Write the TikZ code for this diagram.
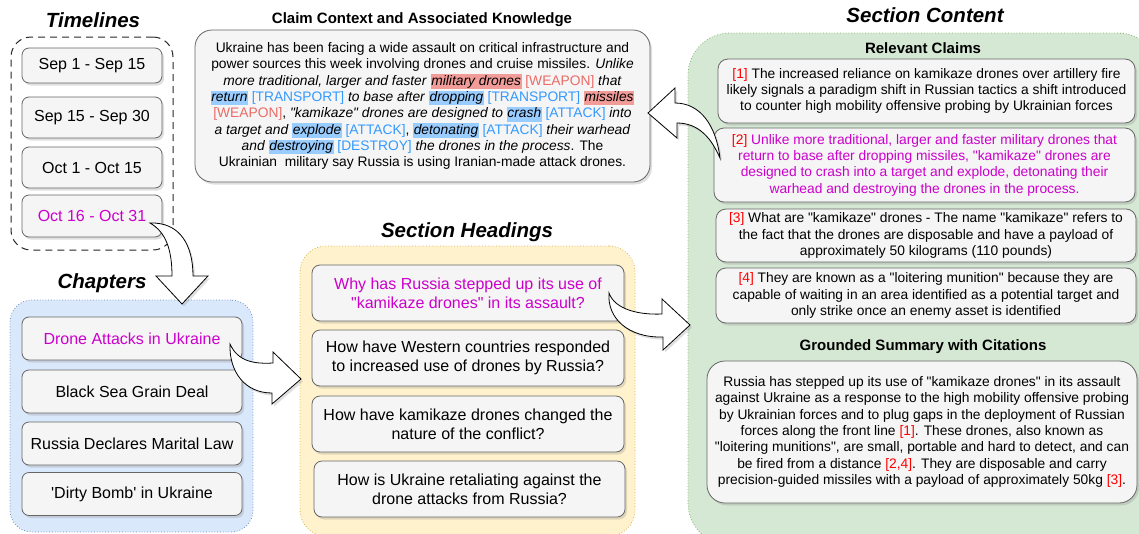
\documentclass[tikz,border=0pt]{standalone}
\usepackage{fontspec}
\setmainfont{Liberation Sans}[Ligatures=TeXOff]
\usetikzlibrary{shadows}

\definecolor{cardfill}{HTML}{F5F5F5}
\definecolor{cardline}{HTML}{666666}
\definecolor{pick}{HTML}{CC00CC}
\definecolor{cite}{HTML}{FF0000}
\definecolor{bluefill}{HTML}{DAE8FC}
\definecolor{bluedge}{HTML}{6C8EBF}
\definecolor{yellowfill}{HTML}{FFF2CC}
\definecolor{yellowedge}{HTML}{D6B656}
\definecolor{greenfill}{HTML}{D5E8D4}
\definecolor{greenedge}{HTML}{82B366}
\definecolor{markred}{HTML}{F19C99}
\definecolor{markblue}{HTML}{99CCFF}
\definecolor{tagred}{HTML}{EA6B66}
\definecolor{tagblue}{HTML}{3399FF}

\newcommand{\markr}[1]{{\setlength{\fboxsep}{0.5pt}\colorbox{markred}{\rule[-3.5pt]{0pt}{13.8pt}\itshape #1}}}
\newcommand{\markb}[1]{{\setlength{\fboxsep}{0.5pt}\colorbox{markblue}{\rule[-3.5pt]{0pt}{13.8pt}\itshape #1}}}
\newcommand{\tagr}[1]{\textcolor{tagred}{#1}}
\newcommand{\tagb}[1]{\textcolor{tagblue}{#1}}
\newcommand{\cit}[1]{\textcolor{cite}{#1}}

\begin{document}
\begin{tikzpicture}[x=1pt, y=-1pt,
	card/.style={draw=cardline, fill=cardfill, line width=0.8pt, rounded corners=7pt, align=center, inner sep=0pt,
		drop shadow={shadow xshift=2pt, shadow yshift=-2.5pt, opacity=0.25}},
	panel/.style={line width=0.8pt, inner sep=0pt},
	heading/.style={font=\fontsize{20.5}{24}\selectfont\bfseries\itshape},
	subheading/.style={font=\fontsize{15}{18}\selectfont\bfseries},
	txtbig/.style={font=\fontsize{16}{19}\selectfont},
	txtsmall/.style={font=\fontsize{13.8}{16.3}\selectfont},
	bigarrow/.style={draw=black, fill=white, line width=0.8pt,
		drop shadow={shadow xshift=2pt, shadow yshift=-2.5pt, opacity=0.25}}
	]
	\useasboundingbox (0,0) rectangle (1139,533);
	
	% Group panels
	\node[panel, draw=black!85, line width=1pt, dash pattern=on 7pt off 5pt, rounded corners=20pt, minimum width=162pt, minimum height=213pt] (timepanel) at (92,143.5) {};
	\node[panel, draw=bluedge, fill=bluefill, dotted, rounded corners=22pt, minimum width=243pt, minimum height=232pt] (chappanel) at (131.5,416) {};
	\node[panel, draw=yellowedge, fill=yellowfill, dotted, rounded corners=26pt, minimum width=335pt, minimum height=290pt] (headpanel) at (467.5,391) {};
	\node[panel, draw=greenedge, fill=greenfill, dotted, rounded corners=42pt, minimum width=472pt, minimum height=512pt] (contpanel) at (924,289) {};
	
	% Titles
	\node[heading] (ttime) at (93,20) {Timelines};
	\node[heading] (tchap) at (102,283) {Chapters};
	\node[heading] (thead) at (467,232) {Section Headings};
	\node[heading] (tcont) at (925,15) {Section Content};
	\node[subheading] (tctx) at (422,20) {Claim Context and Associated Knowledge};
	\node[subheading] (tclaims) at (923,48) {Relevant Claims};
	\node[subheading] (tsum) at (923,347) {Grounded Summary with Citations};
	
	% Timelines
	\foreach \i/\y/\h/\txt in {1/65.5/35/Sep 1 - Sep 15, 2/117.5/41/Sep 15 - Sep 30, 3/167.5/41/Oct 1 - Oct 15, 4/216/42/{\textcolor{pick}{Oct 16 - Oct 31}}} {
		\node[card, txtbig, minimum width=140pt, minimum height=\h pt] (T\i) at (92,\y) {\txt};
	}
	
	% Chapters
	\foreach \i/\y/\txt in {1/338.5/{\textcolor{pick}{Drone Attacks in Ukraine}}, 2/391.5/Black Sea Grain Deal, 3/443.5/Russia Declares Marital Law, 4/494/'Dirty Bomb' in Ukraine} {
		\node[card, txtbig, minimum width=220pt, minimum height=43pt] (C\i) at (132,\y) {\txt};
	}
	
	% Section headings
	\node[card, txtbig, rounded corners=8pt, minimum width=312pt, minimum height=56pt] (H1) at (468,293) {\textcolor{pick}{Why has Russia stepped up its use of}\\\textcolor{pick}{"kamikaze drones" in its assault?}};
	\node[card, txtbig, rounded corners=8pt, minimum width=312pt, minimum height=56pt] (H2) at (468,358) {How have Western countries responded\\to increased use of drones by Russia?};
	\node[card, txtbig, rounded corners=8pt, minimum width=312pt, minimum height=56pt] (H3) at (468,424) {How have kamikaze drones changed the\\nature of the conflict?};
	\node[card, txtbig, rounded corners=8pt, minimum width=311pt, minimum height=56pt] (H4) at (469.5,489) {How is Ukraine retaliating against the\\drone attacks from Russia?};
	
	% Claim context
	\node[card, txtsmall, rounded corners=17pt, minimum width=455pt, minimum height=152pt] (ctx) at (422.5,106) {%
		Ukraine has been facing a wide assault on critical infrastructure and\\
		power sources this week involving drones and cruise missiles. \textit{Unlike}\\
		\textit{more traditional, larger and faster} \markr{military drones} \tagr{[WEAPON]} \textit{that}\\
		\markb{return} \tagb{[TRANSPORT]} \textit{to base after} \markb{dropping} \tagb{[TRANSPORT]} \markr{missiles}\\
		\tagr{[WEAPON]}, \textit{"kamikaze" drones are designed to} \markb{crash} \tagb{[ATTACK]} \textit{into}\\
		\textit{a target and} \markb{explode} \tagb{[ATTACK]}, \markb{detonating} \tagb{[ATTACK]} \textit{their warhead}\\
		\textit{and} \markb{destroying} \tagb{[DESTROY]} \textit{the drones in the process}. The\\
		Ukrainian\ \ military say Russia is using Iranian-made attack drones.};
	
	% Relevant claims
	\node[card, txtsmall, rounded corners=10pt, minimum width=417pt, minimum height=64pt] (R1) at (926.5,91) {%
		\cit{[1]} The increased reliance on kamikaze drones over artillery fire\\
		likely signals a paradigm shift in Russian tactics a shift introduced\\
		to counter high mobility offensive probing by Ukrainian forces};
	\node[card, txtsmall, rounded corners=10pt, minimum width=421pt, minimum height=74pt] (R2) at (924.5,165) {%
		\color{pick}\cit{[2]} Unlike more traditional, larger and faster military drones that\\
		\color{pick}return to base after dropping missiles, "kamikaze" drones are\\
		\color{pick}designed to crash into a target and explode, detonating their\\
		\color{pick}warhead and destroying the drones in the process.};
	\node[card, txtsmall, rounded corners=10pt, minimum width=420pt, minimum height=53pt] (R3) at (926,235.5) {%
		\cit{[3]} What are "kamikaze" drones - The name "kamikaze" refers to\\
		the fact that the drones are disposable and have a payload of\\
		approximately 50 kilograms (110 pounds)};
	\node[card, txtsmall, rounded corners=10pt, minimum width=420pt, minimum height=55pt] (R4) at (926,295.5) {%
		\cit{[4]} They are known as a "loitering munition" because they are\\
		capable of waiting in an area identified as a potential target and\\
		only strike once an enemy asset is identified};
	
	% Grounded summary
	\node[card, txtsmall, rounded corners=18pt, minimum width=430pt, minimum height=142pt] (S) at (922,432) {%
		Russia has stepped up its use of "kamikaze drones" in its assault\\
		against Ukraine as a response to the high mobility offensive probing\\
		by Ukrainian forces and to plug gaps in the deployment of Russian\\
		forces along the front line \cit{[1]}. These drones, also known as\\
		"loitering munitions", are small, portable and hard to detect, and can\\
		be fired from a distance \cit{[2,4]}. They are disposable and carry\\
		precision-guided missiles with a payload of approximately 50kg \cit{[3]}.};
	
	% Curved block arrows
	\draw[bigarrow] (150,223) .. controls (180,222) and (193,245) .. (193,276) -- (208,276) -- (182,304) -- (156,276) -- (172,276) .. controls (172,250) and (166,232) .. (150,223) -- cycle;
	\draw[bigarrow] (230,344) .. controls (238,362) and (255,364) .. (273,363) -- (273,352) -- (301,379) -- (272,404) -- (272,393) .. controls (245,393) and (229,372) .. (230,344) -- cycle;
	\draw[bigarrow] (609,293) .. controls (615,310) and (640,315) .. (662,314) -- (662,299) -- (690,325) -- (663,350) -- (663,337) .. controls (628,338) and (607,318) .. (609,293) -- cycle;
	\draw[bigarrow] (720,158) .. controls (716,125) and (700,103) .. (675,103) -- (675,88) -- (648,113) -- (677,138) -- (677,123) .. controls (700,123) and (712,140) .. (720,158) -- cycle;
\end{tikzpicture}
\end{document}
